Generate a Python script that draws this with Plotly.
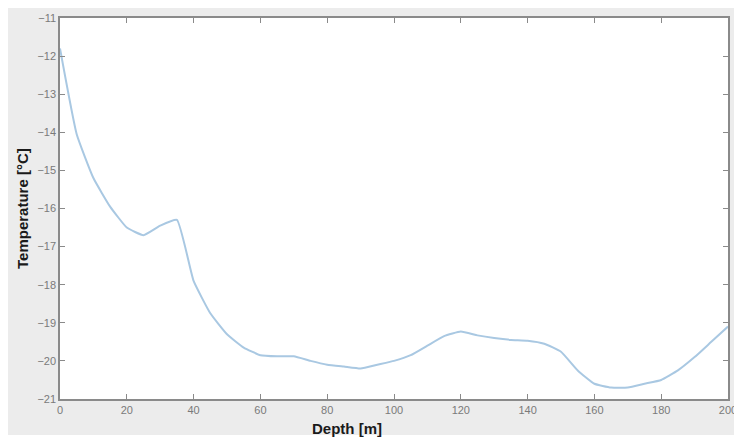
import plotly.graph_objects as go

depth = [0, 5, 10, 15, 20, 25, 30, 35, 40, 45, 50, 55, 60, 65, 70, 75, 80, 85, 90, 95,
         100, 105, 110, 115, 120, 125, 130, 135, 140, 145, 150, 155, 160, 165, 170, 175,
         180, 185, 190, 195, 200]
temperature = [-11.8, -14.05, -15.2, -15.95, -16.5, -16.7, -16.45, -16.3, -17.9, -18.75,
               -19.3, -19.65, -19.85, -19.88, -19.88, -20.0, -20.1, -20.15, -20.2, -20.1,
               -20.0, -19.85, -19.6, -19.35, -19.23, -19.33, -19.4, -19.45, -19.47, -19.55,
               -19.76, -20.25, -20.6, -20.7, -20.7, -20.6, -20.5, -20.25, -19.9, -19.5, -19.1]
x_ticks = [0, 20, 40, 60, 80, 100, 120, 140, 160, 180, 200]
y_ticks = [-11, -12, -13, -14, -15, -16, -17, -18, -19, -20, -21]

# page body has an 8px margin; figure sized to fill the rest of the window
OFF = 8
W, H = 742 - OFF, 441 - OFF
L, R, T, B = 60 - OFF, 727.7 - OFF, 18 - OFF, 399 - OFF

fig = go.Figure()
fig.add_trace(go.Scatter(x=depth, y=temperature, mode="lines", line_shape="spline",
                         line=dict(color="#a9c8e2", width=2, smoothing=0.4), showlegend=False))

axis_common = dict(showgrid=False, zeroline=False, showline=True, mirror="ticks",
                   linecolor="#8a8a8a", linewidth=1.5, ticks="inside", ticklen=5,
                   tickcolor="#8a8a8a", automargin=False,
                   tickfont=dict(family="Liberation Sans", size=11, color="#7a7a7a"))

fig.update_xaxes(range=[0, 200], tickvals=x_ticks, **axis_common)
fig.update_yaxes(range=[-21, -11], tickvals=y_ticks, **axis_common)

pw, ph = R - L, B - T
def px(x):
    return (x - OFF - L) / pw
def py(y):
    return (B - (y - OFF)) / ph

title_font = dict(family="Liberation Sans Narrow, Liberation Sans", size=15, color="#1a1a1a")
fig.add_annotation(text="<b>Depth [m]</b>", xref="paper", yref="paper", showarrow=False,
                   x=px(347), y=py(428), xanchor="center", yanchor="middle", font=title_font)
fig.add_annotation(text="<b>Temperature [°C]</b>", xref="paper", yref="paper", showarrow=False,
                   x=px(22), y=py(208), xanchor="center", yanchor="middle", textangle=-90,
                   font=title_font)

fig.add_shape(type="rect", xref="paper", yref="paper", layer="below",
              x0=px(6), x1=px(750), y0=py(435), y1=py(5),
              fillcolor="#ececec", line=dict(width=0))
fig.add_shape(type="rect", xref="paper", yref="paper", layer="below",
              x0=0, x1=1, y0=0, y1=1, fillcolor="white", line=dict(width=0))

fig.update_layout(width=W, height=H, margin=dict(l=L, r=W - R, t=T, b=H - B),
                  paper_bgcolor="white", plot_bgcolor="rgba(0,0,0,0)")

fig.write_html("out.html")
